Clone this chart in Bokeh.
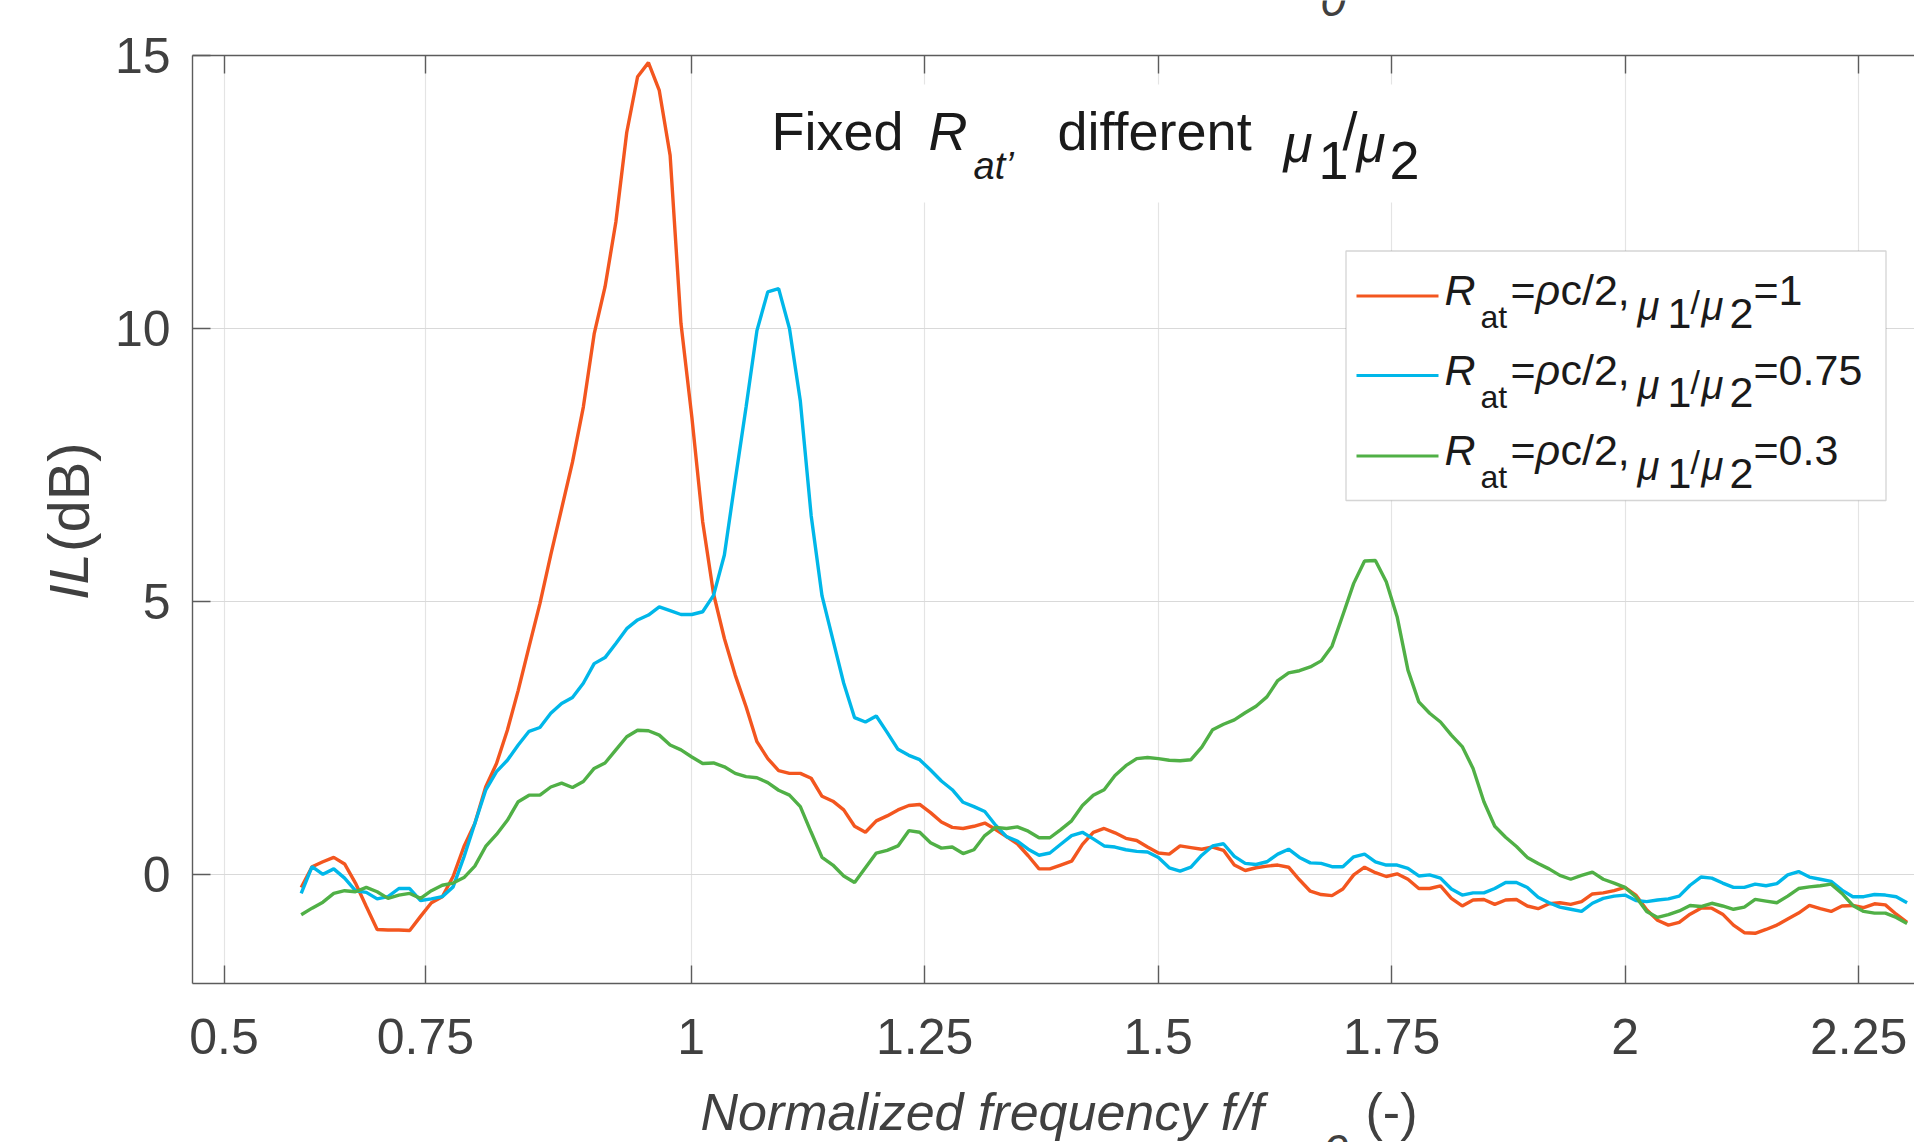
import numpy as np
from bokeh.plotting import figure
from bokeh.layouts import column, row
from bokeh.models import Range1d, FixedTicker, LinearAxis, Label, BoxAnnotation
from bokeh.embed import file_html
from bokeh.resources import INLINE

# ---------------- data ----------------
freq_start = 0.5826      # first normalized-frequency sample
freq_step = 0.011616     # uniform sampling step of the measurement

il_mu_1 = [
    -0.24, 0.14, 0.23, 0.31, 0.19, -0.16, -0.59, -1.01, -1.02, -1.02,
    -1.03, -0.77, -0.52, -0.41, -0.04, 0.51, 0.93, 1.60, 2.03, 2.64,
    3.37, 4.17, 4.96, 5.85, 6.70, 7.55, 8.56, 9.90, 10.76, 11.95,
    13.59, 14.61, 14.87, 14.36, 13.17, 10.09, 8.38, 6.46, 5.14, 4.32,
    3.65, 3.07, 2.43, 2.12, 1.90, 1.85, 1.85, 1.76, 1.43, 1.34,
    1.18, 0.88, 0.77, 0.98, 1.07, 1.18, 1.26, 1.28, 1.13, 0.96,
    0.86, 0.84, 0.88, 0.94, 0.82, 0.69, 0.56, 0.34, 0.10, 0.10,
    0.17, 0.24, 0.55, 0.77, 0.84, 0.76, 0.66, 0.62, 0.50, 0.39,
    0.37, 0.52, 0.49, 0.46, 0.50, 0.44, 0.17, 0.07, 0.12, 0.15,
    0.17, 0.13, -0.10, -0.31, -0.37, -0.39, -0.27, -0.01, 0.13, 0.03,
    -0.04, 0.01, -0.09, -0.26, -0.26, -0.21, -0.44, -0.58, -0.47, -0.46,
    -0.55, -0.47, -0.46, -0.58, -0.63, -0.54, -0.52, -0.55, -0.50, -0.36,
    -0.34, -0.30, -0.24, -0.38, -0.65, -0.84, -0.93, -0.88, -0.73, -0.62,
    -0.62, -0.73, -0.93, -1.07, -1.08, -1.01, -0.93, -0.82, -0.71, -0.57,
    -0.63, -0.68, -0.58, -0.57, -0.61, -0.54, -0.56, -0.73, -0.88,
]
il_mu_075 = [
    -0.35, 0.14, 0.00, 0.10, -0.07, -0.30, -0.33, -0.45, -0.41, -0.26,
    -0.26, -0.48, -0.45, -0.41, -0.23, 0.32, 0.93, 1.54, 1.88, 2.09,
    2.37, 2.62, 2.69, 2.95, 3.13, 3.24, 3.50, 3.86, 3.97, 4.23,
    4.50, 4.66, 4.75, 4.90, 4.83, 4.76, 4.76, 4.81, 5.11, 5.85,
    7.22, 8.56, 9.96, 10.67, 10.73, 10.00, 8.67, 6.57, 5.10, 4.30,
    3.50, 2.87, 2.79, 2.90, 2.60, 2.29, 2.18, 2.10, 1.91, 1.71,
    1.55, 1.32, 1.24, 1.15, 0.90, 0.69, 0.61, 0.46, 0.35, 0.39,
    0.55, 0.71, 0.77, 0.65, 0.52, 0.50, 0.45, 0.42, 0.41, 0.31,
    0.12, 0.06, 0.13, 0.35, 0.52, 0.56, 0.33, 0.20, 0.18, 0.23,
    0.37, 0.46, 0.31, 0.21, 0.20, 0.14, 0.14, 0.32, 0.37, 0.23,
    0.17, 0.17, 0.11, -0.03, -0.01, -0.07, -0.27, -0.38, -0.34, -0.34,
    -0.26, -0.15, -0.15, -0.24, -0.42, -0.52, -0.60, -0.64, -0.68, -0.53,
    -0.44, -0.40, -0.38, -0.48, -0.50, -0.47, -0.45, -0.40, -0.20, -0.05,
    -0.07, -0.16, -0.24, -0.24, -0.18, -0.21, -0.17, -0.01, 0.05, -0.05,
    -0.09, -0.13, -0.29, -0.41, -0.41, -0.37, -0.38, -0.41, -0.52,
]
il_mu_03 = [
    -0.74, -0.62, -0.51, -0.35, -0.30, -0.32, -0.24, -0.32, -0.44, -0.38,
    -0.35, -0.44, -0.30, -0.20, -0.16, -0.06, 0.15, 0.51, 0.73, 0.99,
    1.33, 1.45, 1.45, 1.60, 1.67, 1.59, 1.70, 1.94, 2.04, 2.28,
    2.52, 2.64, 2.63, 2.55, 2.37, 2.28, 2.15, 2.03, 2.04, 1.97,
    1.85, 1.79, 1.77, 1.68, 1.54, 1.45, 1.24, 0.77, 0.31, 0.17,
    -0.03, -0.15, 0.12, 0.39, 0.44, 0.52, 0.80, 0.77, 0.58, 0.48,
    0.50, 0.38, 0.45, 0.71, 0.86, 0.84, 0.87, 0.79, 0.67, 0.67,
    0.82, 0.98, 1.26, 1.45, 1.55, 1.81, 1.99, 2.12, 2.14, 2.12,
    2.09, 2.08, 2.10, 2.33, 2.65, 2.75, 2.83, 2.96, 3.08, 3.25,
    3.55, 3.69, 3.73, 3.80, 3.91, 4.18, 4.75, 5.33, 5.74, 5.75,
    5.36, 4.72, 3.74, 3.16, 2.95, 2.79, 2.55, 2.34, 1.94, 1.33,
    0.88, 0.68, 0.51, 0.31, 0.20, 0.10, -0.02, -0.09, -0.02, 0.04,
    -0.09, -0.16, -0.24, -0.41, -0.68, -0.79, -0.74, -0.67, -0.57, -0.59,
    -0.53, -0.58, -0.64, -0.60, -0.46, -0.49, -0.52, -0.40, -0.26, -0.23,
    -0.21, -0.18, -0.35, -0.57, -0.68, -0.71, -0.71, -0.79, -0.90,
]
freq = [round(freq_start + freq_step * i, 5) for i in range(len(il_mu_1))]

series_values = [il_mu_1, il_mu_075, il_mu_03]
series_colors = ["#F3561F", "#00B7E9", "#50B046"]
series_ratio = ["=1", "=0.75", "=0.3"]

x_tick_pos = [0.5, 0.7155, 1.0, 1.25, 1.5, 1.75, 2.0, 2.25]
x_tick_labels = ["0.5", "0.75", "1", "1.25", "1.5", "1.75", "2", "2.25"]
y_tick_pos = [0, 5, 10, 15]
y_tick_labels = ["0", "5", "10", "15"]

# ---------------- page layout (page px, origin top-left) ----------------
PW, PH = 1914, 1142
TOP_H = 20            # strip above the plot
LEFT_W = 108          # strip left of the plot (y-axis title)
BOT_Y = 1080          # page y where the x-axis-title strip starts
FR_L, FR_R, FR_T, FR_B = 192, 1914, 55, 983   # plot frame on the page
X0 = 1 + (FR_L - 690.6) / 934.1
X1 = X0 + (FR_R - FR_L) / 934.1
Y0, Y1 = -2.0, 15.0
K = 0.42              # baseline correction (fraction of font size)
ROT_SHIFT = 39        # empirical shift along the rotated y-title

FONT = "Liberation Sans"
AX_COL = "#5c5c5c"
TXT_COL = "#404040"
TITLE_COL = "#1a1a1a"

PLOT_W = PW - LEFT_W
PLOT_H = BOT_Y - TOP_H

p = figure(width=PLOT_W, height=PLOT_H, x_range=Range1d(X0, X1), y_range=Range1d(Y0, Y1),
           output_backend="svg", toolbar_location=None,
           min_border_left=FR_L - LEFT_W, min_border_right=PW - FR_R,
           min_border_top=FR_T - TOP_H, min_border_bottom=BOT_Y - FR_B)
p.outline_line_color = None
p.background_fill_color = "white"
p.border_fill_color = "white"


def style_axis(ax, ticks, labels, show_labels=True):
    ax.ticker = FixedTicker(ticks=ticks)
    ax.axis_line_color = AX_COL
    ax.axis_line_width = 1.4
    ax.major_tick_line_color = AX_COL
    ax.major_tick_line_width = 1.4
    ax.major_tick_in = 18
    ax.major_tick_out = 0
    ax.minor_tick_in = 0
    ax.minor_tick_out = 0
    ax.major_label_text_font = FONT
    ax.major_label_text_color = TXT_COL
    ax.major_label_text_font_size = "50px"
    if show_labels:
        ax.major_label_overrides = {t: l for t, l in zip(ticks, labels)}
    else:
        ax.major_label_overrides = {t: "" for t in ticks}
        ax.major_label_standoff = 0


style_axis(p.xaxis[0], x_tick_pos, x_tick_labels)
p.xaxis[0].major_label_standoff = 35
style_axis(p.yaxis[0], y_tick_pos, y_tick_labels)
p.yaxis[0].major_label_standoff = 22

top_axis = LinearAxis()
style_axis(top_axis, x_tick_pos, x_tick_labels, show_labels=False)
p.add_layout(top_axis, "above")

p.xgrid.ticker = FixedTicker(ticks=x_tick_pos)
p.ygrid.ticker = FixedTicker(ticks=y_tick_pos)
p.xgrid.grid_line_color = "#e4e4e4"
p.ygrid.grid_line_color = "#d9d9d9"
p.xgrid.grid_line_width = 1.2
p.ygrid.grid_line_width = 1.2

for vals, col in zip(series_values, series_colors):
    p.line(freq, vals, line_color=col, line_width=3.4)


def dx(px):   # page px -> data x of the main plot
    return X0 + (px - FR_L) / (FR_R - FR_L) * (X1 - X0)


def dy(py):   # page px -> data y of the main plot
    return Y1 - (py - FR_T) / (FR_B - FR_T) * (Y1 - Y0)


def make_label(x, y, s, size, italic, color, angle):
    return Label(x=x, y=y, text=s, text_font=FONT, text_font_size=f"{size}px",
                 text_font_style="italic" if italic else "normal",
                 text_color=color, text_align="left",
                 text_baseline="alphabetic", angle=angle)


def ptext(px, py, s, size, italic=False, color=TITLE_COL):
    p.add_layout(make_label(dx(px), dy(py - K * size), s, size, italic, color, 0.0))


# title inside the plot (white background box)
p.add_layout(BoxAnnotation(left=dx(752), right=dx(1432), top=dy(84), bottom=dy(202),
                           fill_color="white", fill_alpha=1.0, line_color=None))
TB = 153
ptext(771, TB, "Fixed", 54)
ptext(928, TB, "R", 54, italic=True)
ptext(973, TB + 28, "at\u2019", 38, italic=True)
ptext(1057, TB, "different", 54)
ptext(1283, TB + 12, "\u03bc", 53, italic=True)
ptext(1318, TB + 30, "1", 54)
ptext(1342, TB, "/", 54)
ptext(1356, TB + 12, "\u03bc", 53, italic=True)
ptext(1389, TB + 30, "2", 54)

# legend
p.add_layout(BoxAnnotation(left=dx(1345.5), right=dx(1885.5), top=dy(250.5), bottom=dy(500),
                           fill_color="white", fill_alpha=1.0,
                           line_color="#747474", line_width=1.3))
row_base = [308, 387.5, 468]
for base, col, ratio in zip(row_base, series_colors, series_ratio):
    yc = base - 12.5
    p.add_layout(BoxAnnotation(left=dx(1356), right=dx(1438), top=dy(yc - 1.6), bottom=dy(yc + 1.6),
                               fill_color=col, fill_alpha=1.0, line_color=None))
    ptext(1444, base, "R", 43, italic=True)
    ptext(1480, base + 22, "at", 32)
    ptext(1510, base, "=", 43)
    ptext(1535, base, "\u03c1", 43, italic=True)
    ptext(1560, base, "c/2,", 43)
    ptext(1637, base + 14, "\u03bc", 40, italic=True)
    ptext(1667, base + 23, "1", 43)
    ptext(1690, base + 8, "/", 34)
    ptext(1701, base + 14, "\u03bc", 40, italic=True)
    ptext(1729, base + 23, "2", 43)
    ptext(1753, base, ratio, 43)


# ---------------- strips holding the texts outside the plot frame ----------------
def strip(w, h):
    f = figure(width=w, height=h, x_range=Range1d(0, w), y_range=Range1d(0, h),
               output_backend="svg", toolbar_location=None,
               x_axis_location=None, y_axis_location=None,
               min_border_left=0, min_border_right=0, min_border_top=0, min_border_bottom=0)
    f.outline_line_color = None
    f.grid.visible = False
    f.background_fill_color = "white"
    f.border_fill_color = "white"
    return f


# top strip: lower part of a subscript from a line above (cut by the picture edge)
f_top = strip(PW, TOP_H)
f_top.add_layout(make_label(1320, TOP_H - 19 + K * 46, "0", 46, True, TXT_COL, 0.0))

# left strip: y-axis title (rotated)
f_left = strip(LEFT_W, PLOT_H)
f_left.add_layout(make_label(91.5 - K * 56, BOT_Y - 603 - ROT_SHIFT, "IL", 56, True, TXT_COL, np.pi / 2))
f_left.add_layout(make_label(91.5 - K * 57, BOT_Y - 548 - ROT_SHIFT, "(dB)", 58, False, TXT_COL, np.pi / 2))

# bottom strip: x-axis title
BOT_H = PH - BOT_Y
f_bot = strip(PW, BOT_H)
f_bot.add_layout(make_label(700, PH - 1133 + K * 52, "Normalized frequency f/f", 52, True, TXT_COL, 0.0))
f_bot.add_layout(make_label(1322, PH - 1170 + K * 46, "0", 46, True, TXT_COL, 0.0))
f_bot.add_layout(make_label(1365, PH - 1133 + K * 52, "(-)", 52, False, TXT_COL, 0.0))

layout = column(f_top, row(f_left, p), f_bot)

open("out.html", "w", encoding="utf-8").write(file_html(layout, INLINE))
